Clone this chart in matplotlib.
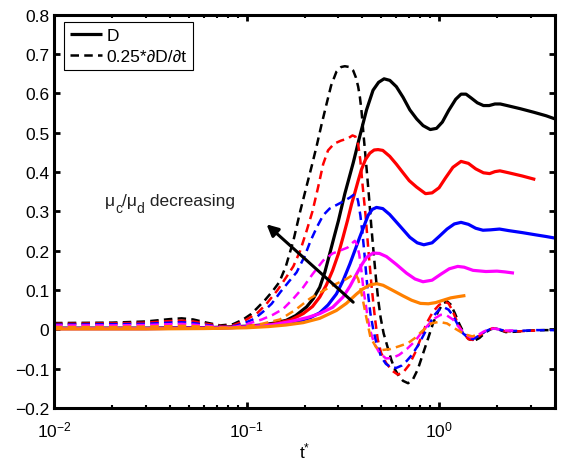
import matplotlib
matplotlib.use("Agg")
import matplotlib.pyplot as plt
from matplotlib.ticker import FixedLocator, LogLocator, NullFormatter
from matplotlib.transforms import offset_copy

plt.rcParams['font.family'] = ['Liberation Sans', 'DejaVu Sans']
plt.rcParams['mathtext.fontset'] = 'custom'
plt.rcParams['mathtext.rm'] = 'Liberation Sans'
plt.rcParams['mathtext.it'] = 'Liberation Sans:italic'
plt.rcParams['mathtext.default'] = 'regular'

# ---- deformation D(t*) for decreasing viscosity ratio ----
t_D_black = [0.01, 0.03, 0.06, 0.08, 0.10, 0.12, 0.14, 0.161, 0.18, 0.205, 0.222, 0.24, 0.255,
             0.27, 0.285, 0.30, 0.324, 0.358, 0.387, 0.42, 0.454, 0.485, 0.518, 0.555, 0.60,
             0.65, 0.705, 0.765, 0.826, 0.90, 0.97, 1.04, 1.12, 1.22, 1.30, 1.38, 1.47, 1.58,
             1.70, 1.82, 1.95, 2.08, 2.3, 2.64, 3.1, 3.6, 4.0]
D_black = [0.003, 0.003, 0.004, 0.006, 0.008, 0.011, 0.016, 0.023, 0.035, 0.057, 0.078, 0.107,
           0.145, 0.191, 0.235, 0.276, 0.345, 0.423, 0.490, 0.558, 0.608, 0.628, 0.637, 0.633,
           0.617, 0.59, 0.558, 0.535, 0.518, 0.508, 0.511, 0.527, 0.556, 0.585, 0.598, 0.598,
           0.588, 0.576, 0.569, 0.569, 0.573, 0.573, 0.568, 0.561, 0.552, 0.543, 0.535]

t_D_red = [0.01, 0.03, 0.06, 0.08, 0.10, 0.12, 0.14, 0.17, 0.197, 0.22, 0.24, 0.26, 0.28, 0.30,
           0.317, 0.335, 0.351, 0.365, 0.38, 0.395, 0.415, 0.437, 0.46, 0.482, 0.51, 0.554, 0.60,
           0.65, 0.70, 0.763, 0.85, 0.92, 1.0, 1.08, 1.18, 1.30, 1.42, 1.55, 1.70, 1.83, 1.95,
           2.07, 2.3, 2.7, 3.16]
D_red = [0.002, 0.002, 0.003, 0.005, 0.007, 0.010, 0.014, 0.024, 0.040, 0.058, 0.082, 0.113,
         0.150, 0.192, 0.234, 0.278, 0.318, 0.347, 0.378, 0.406, 0.432, 0.448, 0.456, 0.457,
         0.455, 0.44, 0.42, 0.398, 0.378, 0.362, 0.345, 0.347, 0.36, 0.385, 0.412, 0.427, 0.422,
         0.408, 0.398, 0.396, 0.401, 0.403, 0.398, 0.39, 0.381]

t_D_blue = [0.01, 0.03, 0.06, 0.08, 0.10, 0.13, 0.16, 0.19, 0.215, 0.24, 0.265, 0.293, 0.318,
            0.344, 0.365, 0.387, 0.41, 0.428, 0.45, 0.473, 0.51, 0.554, 0.62, 0.705, 0.77, 0.833,
            0.92, 1.0, 1.1, 1.2, 1.30, 1.42, 1.55, 1.69, 1.85, 2.06, 2.3, 2.7, 3.2, 3.6, 4.0]
D_blue = [0.002, 0.002, 0.003, 0.004, 0.006, 0.010, 0.015, 0.022, 0.030, 0.042, 0.062, 0.090,
          0.125, 0.166, 0.200, 0.234, 0.266, 0.290, 0.305, 0.310, 0.307, 0.292, 0.265, 0.234,
          0.220, 0.215, 0.220, 0.236, 0.255, 0.268, 0.272, 0.267, 0.257, 0.252, 0.253, 0.255,
          0.251, 0.246, 0.240, 0.236, 0.232]

t_D_magenta = [0.01, 0.03, 0.06, 0.08, 0.10, 0.138, 0.17, 0.207, 0.24, 0.28, 0.317, 0.345, 0.373,
               0.395, 0.42, 0.454, 0.49, 0.533, 0.60, 0.677, 0.75, 0.825, 0.92, 1.02, 1.13, 1.25,
               1.35, 1.5, 1.75, 2.0, 2.2, 2.45]
D_magenta = [0.002, 0.002, 0.003, 0.004, 0.006, 0.012, 0.020, 0.030, 0.040, 0.056, 0.082, 0.110,
             0.141, 0.163, 0.183, 0.194, 0.193, 0.185, 0.165, 0.143, 0.128, 0.121, 0.125, 0.140,
             0.154, 0.160, 0.158, 0.150, 0.147, 0.148, 0.146, 0.143]

t_D_orange = [0.01, 0.03, 0.06, 0.08, 0.10, 0.13, 0.16, 0.197, 0.24, 0.293, 0.33, 0.373, 0.40,
              0.437, 0.475, 0.512, 0.57, 0.65, 0.72, 0.80, 0.88, 0.96, 1.05, 1.15, 1.25, 1.37]
D_orange = [0.001, 0.001, 0.002, 0.003, 0.004, 0.007, 0.011, 0.017, 0.028, 0.048, 0.066, 0.090,
            0.102, 0.113, 0.116, 0.112, 0.100, 0.085, 0.074, 0.066, 0.065, 0.068, 0.074, 0.080,
            0.083, 0.086]

# ---- 0.25 * dD/dt ----
t_R_black = [0.01, 0.02, 0.03, 0.04, 0.046, 0.053, 0.062, 0.073, 0.085, 0.096, 0.105, 0.113,
             0.125, 0.137, 0.148, 0.160, 0.175, 0.19, 0.205, 0.218, 0.231, 0.245, 0.26, 0.275,
             0.293, 0.31, 0.324, 0.342, 0.358, 0.37, 0.38, 0.388, 0.395, 0.406, 0.42, 0.432,
             0.445, 0.458, 0.47, 0.483, 0.497, 0.515, 0.54, 0.565, 0.59, 0.62, 0.65, 0.69, 0.73,
             0.775, 0.825, 0.877, 0.93, 0.99, 1.05, 1.10, 1.15, 1.21, 1.27, 1.34, 1.42, 1.51,
             1.62, 1.74, 1.85, 1.95, 2.08, 2.22, 2.5, 3.0, 3.5, 4.0]
R_black = [0.016, 0.017, 0.020, 0.026, 0.028, 0.025, 0.017, 0.010, 0.013, 0.025, 0.038, 0.053,
           0.075, 0.098, 0.120, 0.160, 0.225, 0.300, 0.364, 0.415, 0.465, 0.520, 0.572, 0.620,
           0.655, 0.667, 0.669, 0.667, 0.658, 0.640, 0.617, 0.590, 0.558, 0.490, 0.410, 0.340,
           0.260, 0.190, 0.130, 0.075, 0.030, -0.010, -0.045, -0.078, -0.102, -0.120, -0.131,
           -0.137, -0.128, -0.102, -0.062, -0.023, 0.015, 0.046, 0.066, 0.071, 0.063, 0.040,
           0.015, -0.008, -0.024, -0.030, -0.022, -0.008, 0.000, 0.003, -0.002, -0.007, -0.006,
           -0.003, -0.002, -0.002]

t_R_red = [0.01, 0.02, 0.03, 0.04, 0.046, 0.053, 0.062, 0.075, 0.085, 0.096, 0.113, 0.127, 0.145,
           0.161, 0.175, 0.19, 0.205, 0.22, 0.235, 0.25, 0.265, 0.285, 0.31, 0.335, 0.355, 0.368,
           0.38, 0.39, 0.40, 0.415, 0.428, 0.446, 0.464, 0.48, 0.50, 0.53, 0.57, 0.61, 0.65,
           0.70, 0.75, 0.80, 0.86, 0.93, 1.0, 1.07, 1.12, 1.18, 1.25, 1.33, 1.42, 1.50, 1.60,
           1.74, 1.90, 2.05, 2.2, 2.6, 3.16]
R_red = [0.014, 0.015, 0.017, 0.021, 0.022, 0.020, 0.014, 0.008, 0.010, 0.020, 0.040, 0.065,
         0.100, 0.133, 0.160, 0.200, 0.250, 0.300, 0.360, 0.420, 0.455, 0.472, 0.480, 0.485,
         0.493, 0.490, 0.470, 0.430, 0.370, 0.290, 0.210, 0.110, 0.030, -0.025, -0.060, -0.085,
         -0.105, -0.115, -0.110, -0.090, -0.060, -0.025, 0.015, 0.045, 0.062, 0.070, 0.066,
         0.045, 0.015, -0.010, -0.025, -0.027, -0.018, -0.005, 0.003, 0.000, -0.005, -0.005,
         -0.003]

t_R_blue = [0.01, 0.02, 0.03, 0.04, 0.046, 0.053, 0.062, 0.075, 0.088, 0.10, 0.11, 0.122, 0.135,
            0.15, 0.165, 0.182, 0.20, 0.215, 0.232, 0.25, 0.27, 0.293, 0.32, 0.344, 0.36, 0.372,
            0.38, 0.39, 0.40, 0.41, 0.42, 0.43, 0.44, 0.455, 0.47, 0.50, 0.53, 0.565, 0.60, 0.64,
            0.68, 0.72, 0.78, 0.83, 0.886, 0.94, 1.0, 1.06, 1.12, 1.18, 1.25, 1.33, 1.42, 1.50,
            1.60, 1.74, 1.90, 2.05, 2.2, 2.6, 3.2, 4.0]
R_blue = [0.012, 0.013, 0.014, 0.017, 0.018, 0.016, 0.011, 0.006, 0.009, 0.018, 0.027, 0.045,
          0.065, 0.095, 0.120, 0.145, 0.185, 0.225, 0.260, 0.290, 0.307, 0.316, 0.326, 0.335,
          0.342, 0.342, 0.325, 0.290, 0.245, 0.190, 0.130, 0.080, 0.040, 0.000, -0.030, -0.070,
          -0.088, -0.097, -0.098, -0.092, -0.080, -0.066, -0.040, -0.015, 0.011, 0.035, 0.050,
          0.056, 0.050, 0.035, 0.012, -0.010, -0.022, -0.025, -0.017, -0.005, 0.003, 0.000,
          -0.004, -0.004, -0.002, -0.002]

t_R_magenta = [0.01, 0.02, 0.03, 0.04, 0.046, 0.053, 0.062, 0.075, 0.088, 0.10, 0.12, 0.137,
               0.155, 0.175, 0.197, 0.22, 0.25, 0.28, 0.305, 0.335, 0.355, 0.365, 0.375, 0.385,
               0.395, 0.405, 0.417, 0.428, 0.44, 0.46, 0.49, 0.53, 0.57, 0.62, 0.68, 0.75, 0.82,
               0.88, 0.95, 1.02, 1.10, 1.18, 1.27, 1.35, 1.45, 1.55, 1.70, 1.85, 2.0, 2.2, 2.45]
R_magenta = [0.010, 0.010, 0.011, 0.013, 0.014, 0.012, 0.009, 0.005, 0.007, 0.013, 0.025, 0.037,
             0.052, 0.078, 0.107, 0.140, 0.175, 0.193, 0.200, 0.208, 0.220, 0.225, 0.215, 0.190,
             0.149, 0.100, 0.060, 0.023, -0.005, -0.035, -0.060, -0.074, -0.073, -0.065, -0.050,
             -0.030, -0.005, 0.012, 0.028, 0.037, 0.035, 0.025, 0.005, -0.010, -0.020, -0.018,
             -0.006, 0.002, 0.001, -0.003, -0.003]

t_R_orange = [0.01, 0.02, 0.03, 0.04, 0.046, 0.053, 0.062, 0.075, 0.088, 0.10, 0.12, 0.149, 0.161,
              0.18, 0.197, 0.213, 0.24, 0.265, 0.293, 0.33, 0.358, 0.368, 0.38, 0.39, 0.40, 0.417,
              0.44, 0.47, 0.50, 0.56, 0.62, 0.69, 0.75, 0.81, 0.91, 1.0, 1.10, 1.21, 1.35, 1.49,
              1.60]
R_orange = [0.006, 0.006, 0.007, 0.008, 0.009, 0.008, 0.006, 0.004, 0.005, 0.008, 0.014, 0.025,
            0.035, 0.050, 0.065, 0.078, 0.093, 0.105, 0.116, 0.128, 0.139, 0.140, 0.128, 0.105,
            0.080, 0.035, -0.020, -0.045, -0.053, -0.050, -0.043, -0.035, -0.022, -0.006, 0.015,
            0.019, 0.015, 0.002, -0.012, -0.018, -0.012]

colors = ['#000000', '#FF0000', '#0000FF', '#FF00FF', '#FF8000']
series = [
    (t_D_black, D_black, t_R_black, R_black),
    (t_D_red, D_red, t_R_red, R_red),
    (t_D_blue, D_blue, t_R_blue, R_blue),
    (t_D_magenta, D_magenta, t_R_magenta, R_magenta),
    (t_D_orange, D_orange, t_R_orange, R_orange),
]

fig = plt.figure(figsize=(5.62, 4.6), dpi=100)
ax = fig.add_axes([54 / 562, 1 - 409 / 460, 501 / 562, 393.3 / 460])

handles = []
for c, (tD, D, tR, R) in zip(colors, series):
    h1, = ax.plot(tD, D, color=c, lw=2.3, solid_capstyle='butt')
    h2, = ax.plot(tR, R, color=c, lw=1.8, linestyle=(0, (3.4, 2.1)))
    if not handles:
        handles = [h1, h2]

ax.set_xscale('log')
ax.set_xlim(0.01, 4.0)
ax.set_ylim(-0.2, 0.8)
ax.yaxis.set_major_locator(FixedLocator([-0.2, -0.1, 0, 0.1, 0.2, 0.3, 0.4, 0.5, 0.6, 0.7, 0.8]))
ax.set_yticklabels(['\u22120.2', '\u22120.1', '0', '0.1', '0.2', '0.3', '0.4', '0.5', '0.6', '0.7', '0.8'])
ax.xaxis.set_major_locator(FixedLocator([0.01, 0.1, 1.0]))
ax.set_xticklabels([r'$10^{-2}$', r'$10^{-1}$', r'$10^{0}$'])
ax.xaxis.set_minor_locator(LogLocator(base=10, subs=range(2, 10)))
ax.xaxis.set_minor_formatter(NullFormatter())

for s in ax.spines.values():
    s.set_linewidth(2.2)
ax.tick_params(which='both', direction='in', top=True, right=True, labelsize=12.5, color='k')
ax.tick_params(which='major', length=4.5, width=2.0)
ax.tick_params(which='minor', length=2.5, width=1.5)
ax.tick_params(axis='x', which='major', pad=8)

ax.set_xlabel(r'$t^{*}$', fontsize=12.5, labelpad=1)

ax.annotate('', xy=(0.127, 0.267), xytext=(0.358, 0.069),
            arrowprops=dict(arrowstyle='-|>', color='k', lw=2.2, mutation_scale=17,
                            shrinkA=0, shrinkB=0))

# annotation "mu_c/mu_d decreasing", built piece by piece with lowered subscripts
pieces = [('\u03bc', 12.5, 0), ('c', 10, -5.5), ('/\u03bc', 12.5, 0), ('d', 10, -5.5),
          (' decreasing', 12.5, 0)]
renderer = fig.canvas.get_renderer()
x_off = 0.0
for txt, fs, dy in pieces:
    tr = offset_copy(ax.transData, fig=fig, x=x_off, y=dy, units='points')
    t = ax.text(0.0184, 0.317, txt, fontsize=fs, color='#222222', ha='left', va='baseline',
                transform=tr)
    bb = t.get_window_extent(renderer)
    x_off += bb.width * 72.0 / fig.dpi

leg = ax.legend(handles, ['D', '0.25*\u2202D/\u2202t'], loc='upper left',
                bbox_to_anchor=(0.02, 0.981), borderaxespad=0, fontsize=12.5,
                fancybox=False, framealpha=1, edgecolor='k', handlelength=1.85,
                handletextpad=0.25, labelspacing=0.3, borderpad=0.35)
leg.get_frame().set_linewidth(0.8)

fig.savefig('out.png', dpi=100)
